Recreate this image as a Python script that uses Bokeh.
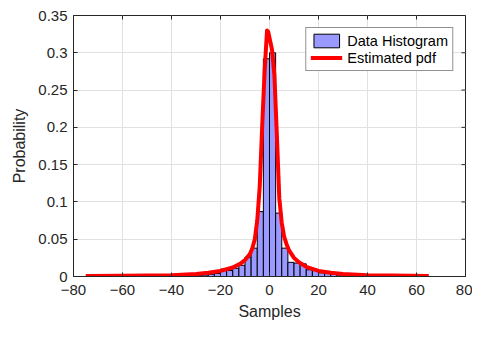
import math
from bokeh.plotting import figure
from bokeh.models import Range1d, FixedTicker, Legend, LegendItem
from bokeh.embed import file_html
from bokeh.resources import INLINE

# ---- data ----
bin_edges = [-32.5, -30, -27.5, -25, -22.5, -20, -17.5, -15, -12.5, -10, -7.5, -5, -2.5,
             0, 2.5, 5, 7.5, 10, 12.5, 15, 17.5, 20, 22.5, 25, 27.5, 30, 32.5]
hist_prob = [0.001, 0.001, 0.002, 0.003, 0.004, 0.010, 0.008, 0.011, 0.015, 0.026, 0.038, 0.087,
             0.292, 0.300,
             0.085, 0.038, 0.019, 0.018, 0.017, 0.009, 0.008, 0.005, 0.004, 0.003, 0.002, 0.001]

pdf_x = [-75, -60, -50, -40, -30, -25, -20, -15, -12, -10,
         -8, -7, -6, -5, -4, -3, -2, -1, -0.5, 0,
         1, 2, 3, 4, 5, 6, 7, 8, 10, 12,
         15, 20, 25, 30, 40, 50, 65]
pdf_y = [0.0006, 0.0009, 0.0012, 0.0018, 0.0035, 0.005, 0.0075, 0.012, 0.017, 0.022,
         0.030, 0.038, 0.050, 0.075, 0.12, 0.20, 0.275, 0.33, 0.328, 0.32,
         0.305, 0.27, 0.19, 0.105, 0.072, 0.053, 0.043, 0.035, 0.025, 0.019,
         0.013, 0.0075, 0.005, 0.0035, 0.0018, 0.0012, 0.0007]

x_ticks = [-80, -60, -40, -20, 0, 20, 40, 60, 80]
y_ticks = [0, 0.05, 0.1, 0.15, 0.2, 0.25, 0.3, 0.35]
y_tick_labels = ["0", "0.05", "0.1", "0.15", "0.2", "0.25", "0.3", "0.35"]

FONT = "Liberation Sans"
DARK = "#262626"

x_lo, x_hi = x_ticks[0], x_ticks[-1]
y_lo, y_hi = y_ticks[0], y_ticks[-1]

p = figure(width=472, height=324, output_backend="svg", toolbar_location=None,
           x_range=Range1d(x_lo, x_hi), y_range=Range1d(y_lo, y_hi),
           min_border_left=73, min_border_right=7, min_border_top=15, min_border_bottom=48)
p.outline_line_color = DARK
p.outline_line_width = 1

bars = p.quad(left=bin_edges[:-1], right=bin_edges[1:], top=hist_prob, bottom=0,
              fill_color="#9999ff", line_color="#000000", line_width=1)
pdf = p.line(pdf_x, pdf_y, line_color="#ff0000", line_width=4, line_join="round")

# inward tick marks on the top and right edges of the box
p.ray(x=x_ticks, y=[y_hi] * len(x_ticks), length=4, length_units="screen",
      angle=-math.pi / 2, line_color=DARK, line_width=1)
p.ray(x=[x_hi] * len(y_ticks), y=y_ticks, length=4, length_units="screen",
      angle=math.pi, line_color=DARK, line_width=1)

def style_axis(ax):
    ax.axis_line_color = DARK
    ax.major_tick_line_color = DARK
    ax.major_tick_in = 4
    ax.major_tick_out = 0
    ax.minor_tick_in = 0
    ax.minor_tick_out = 0
    ax.major_label_text_color = DARK
    ax.major_label_text_font = FONT
    ax.axis_label_text_color = DARK
    ax.axis_label_text_font = FONT
    ax.axis_label_text_font_style = "normal"

xa = p.xaxis[0]
xa.ticker = FixedTicker(ticks=x_ticks)
style_axis(xa)
xa.major_label_text_font_size = "15px"
xa.major_label_standoff = 8
xa.axis_label = "Samples"
xa.axis_label_text_font_size = "16px"
xa.axis_label_standoff = 5

ya = p.yaxis[0]
ya.ticker = FixedTicker(ticks=y_ticks)
ya.major_label_overrides = {t: s for t, s in zip(y_ticks, y_tick_labels)}
style_axis(ya)
ya.major_label_text_font_size = "15px"
ya.major_label_standoff = 6
ya.axis_label = "Probability"
ya.axis_label_text_font_size = "16px"
ya.axis_label_standoff = 7

p.xgrid.ticker = FixedTicker(ticks=x_ticks)
p.ygrid.ticker = FixedTicker(ticks=y_ticks)
for g in (p.xgrid[0], p.ygrid[0]):
    g.grid_line_color = "#e1e1e1"
    g.grid_line_width = 1

legend = Legend(items=[LegendItem(label="Data Histogram", renderers=[bars]),
                       LegendItem(label="Estimated pdf", renderers=[pdf])],
                location="top_right")
legend.margin = 12
legend.padding = 4
legend.spacing = 0
legend.glyph_width = 32
legend.glyph_height = 17
legend.label_height = 17
legend.label_standoff = 5
legend.label_text_font = FONT
legend.label_text_font_size = "14.5px"
legend.label_text_color = "#000000"
legend.border_line_color = DARK
legend.border_line_width = 1
legend.background_fill_color = "#ffffff"
legend.background_fill_alpha = 1
p.add_layout(legend, "center")

open("out.html", "w").write(file_html(p, INLINE))
